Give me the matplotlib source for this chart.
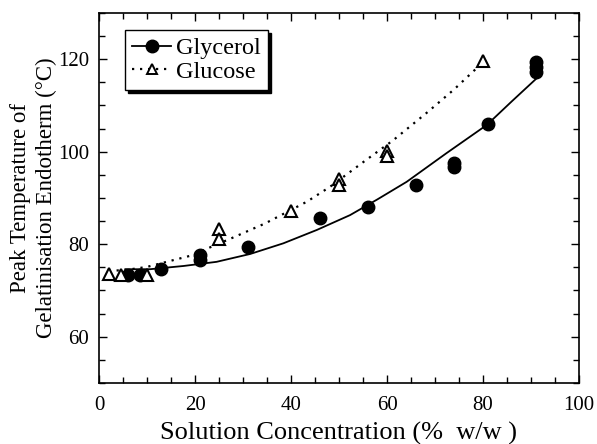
import matplotlib
matplotlib.use("Agg")
import matplotlib.pyplot as plt
from matplotlib.ticker import MultipleLocator

plt.rcParams['font.family'] = ['Liberation Serif', 'DejaVu Serif']

# Measured peak temperatures (°C) vs. solute concentration (% w/w)
glycerol_conc = [6, 8.5, 13, 21, 21, 31, 46, 56, 66, 74, 74, 81, 91, 91, 91]
glycerol_temp = [73.3, 73.4, 74.6, 76.6, 77.6, 79.3, 85.6, 88.1, 92.8, 96.8, 97.5,
                 106.0, 117.3, 118.3, 119.4]

glucose_conc = [2, 4.5, 10, 25, 25, 40, 50, 50, 60, 60, 80]
glucose_temp = [73.5, 73.3, 73.4, 83.2, 81.1, 87.2, 94.0, 92.8, 100.2, 99.1, 119.6]

# Fitted trend curves
glycerol_fit_x = [5.5, 10.6, 17.6, 24.5, 31.5, 38.4, 45.4, 52.3, 58, 64.1, 72.4,
                  80.8, 86, 91.2]
glycerol_fit_y = [74.6, 74.6, 75.3, 76.2, 77.9, 80.2, 83.1, 86.3, 89.7, 93.5, 99.7,
                  105.8, 110.9, 115.9]

glucose_fit_x = [2, 6, 10, 14.1, 19.0, 27.6, 34.6, 43.3, 48.1, 55.1, 61.3, 68.6,
                 74, 78.3, 80]
glucose_fit_y = [74.2, 74.5, 75.1, 76.2, 77.5, 81.3, 84.5, 89.2, 92.4, 97.8, 102.5,
                 108.7, 113.5, 117.7, 119.6]

x_ticks = [0, 20, 40, 60, 80, 100]
y_ticks = [60, 80, 100, 120]

fig = plt.figure(figsize=(5.97, 4.44), dpi=100)
ax = fig.add_axes([99 / 597, 61 / 444, 480 / 597, 370 / 444])

ax.plot(glycerol_fit_x, glycerol_fit_y, color='black', lw=1.3, ls='-')
ax.plot(glucose_fit_x, glucose_fit_y, color='black', lw=1.6, ls=(0, (1, 2.6)))

ax.plot(glycerol_conc, glycerol_temp, ls='none', marker='o', ms=9,
        mfc='black', mec='black')
ax.plot(glucose_conc, glucose_temp, ls='none', marker='^', ms=8.5,
        mfc='white', mec='black', mew=1.5)

# legend entries combine line and marker
h1, = ax.plot([], [], color='black', lw=1.3, ls='-', marker='o', ms=9,
              mfc='black', mec='black')
h2, = ax.plot([], [], color='black', lw=1.6, ls=(0, (1, 2.6)), marker='^', ms=6.5,
              mfc='white', mec='black', mew=1.4)
leg = ax.legend([h1, h2], ['Glycerol', 'Glucose'], loc='upper left',
                bbox_to_anchor=(0.054, 0.954), borderaxespad=0, fontsize=17.5,
                frameon=True, fancybox=False, edgecolor='black', framealpha=1,
                shadow={'color': 'black', 'alpha': 1, 'ox': 2, 'oy': -2},
                handlelength=1.6, handletextpad=0.2, borderpad=0.3,
                labelspacing=0.05)
leg.get_frame().set_linewidth(1.0)

ax.set_xlim(0, 100)
ax.set_ylim(50, 130)
ax.set_xticks(x_ticks)
ax.set_yticks(y_ticks)
ax.xaxis.set_minor_locator(MultipleLocator(5))
ax.yaxis.set_minor_locator(MultipleLocator(5))
ax.tick_params(which='both', direction='in', top=True, right=True,
               width=1.0, labelsize=15)
ax.tick_params(which='major', length=6)
ax.tick_params(which='minor', length=4)
ax.tick_params(axis='x', pad=9)
ax.tick_params(axis='y', pad=7)
for s in ax.spines.values():
    s.set_linewidth(1.2)

ax.set_xlabel('Solution Concentration (%  w/w )', fontsize=19, labelpad=5)
ax.text(-0.137, 0.5, 'Peak Temperature of\nGelatinisation Endotherm (°C)',
        transform=ax.transAxes, rotation=90, ha='center', va='center',
        multialignment='center', fontsize=16.5, linespacing=1.3)

fig.savefig('out.png', dpi=100)
